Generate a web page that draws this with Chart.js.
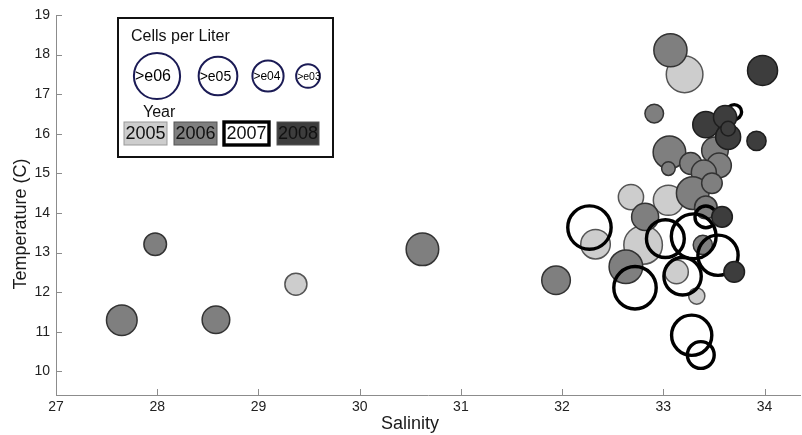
<!DOCTYPE html>
<html><head><meta charset="utf-8">
<script src="https://cdn.jsdelivr.net/npm/chart.js@4/dist/chart.umd.min.js"></script>
<style>html,body{margin:0;padding:0;background:#fff}</style>
</head><body>
<canvas id="c" width="802" height="435"></canvas>
<script>
// ---- data (salinity, temperature, log10 cells per liter) ----
const years = ['2005', '2006', '2007', '2008'];

const sal2005  = [29.37, 33.21, 32.68, 33.05, 32.33, 32.80, 33.13, 33.33];
const temp2005 = [12.20, 17.50, 14.40, 14.32, 13.21, 13.19, 12.51, 11.90];
const logc2005 = [2.64, 4.59, 3.07, 3.73, 3.65, 4.85, 2.85, 1.87];

const sal2006  = [27.65, 27.98, 28.58, 30.62, 31.94, 33.07, 32.91, 33.06, 33.05, 33.51, 33.55, 33.27, 33.40, 33.29, 33.48, 32.82, 32.63, 33.39, 33.42];
const temp2006 = [11.29, 13.21, 11.30, 13.08, 12.30, 18.11, 16.51, 15.53, 15.12, 15.58, 15.20, 15.25, 15.02, 14.50, 14.75, 13.90, 12.64, 13.19, 14.14];
const logc2006 = [3.79, 2.72, 3.39, 4.05, 3.52, 4.13, 2.19, 4.05, 1.52, 3.25, 2.99, 2.64, 3.04, 4.05, 2.45, 3.31, 4.19, 2.27, 2.72];

const sal2007  = [33.70, 32.27, 33.02, 33.30, 33.42, 33.54, 33.19, 32.72, 33.28, 33.37];
const temp2007 = [16.55, 13.63, 13.35, 13.41, 13.90, 12.93, 12.40, 12.11, 10.91, 10.41];
const logc2007 = [1.68, 5.49, 4.75, 5.68, 2.61, 5.07, 4.69, 5.36, 5.07, 3.28];

const sal2008  = [33.98, 33.42, 33.61, 33.64, 33.64, 33.92, 33.58, 33.70];
const temp2008 = [17.60, 16.23, 16.42, 15.92, 16.13, 15.82, 13.90, 12.51];
const logc2008 = [3.71, 3.20, 2.80, 3.04, 1.65, 2.27, 2.45, 2.45];

const xTicks = [27, 28, 29, 30, 31, 32, 33, 34];
const yTicks = [10, 11, 12, 13, 14, 15, 16, 17, 18, 19];
const legendCellLabels = ['>e06', '>e05', '>e04', '>e03'];
const legendCellLogs = [6, 5, 4, 3];

// ---- styling ----
const FONT = '"Liberation Sans", Arial, Helvetica, sans-serif';
const sizeOf = L => 3.75 * L + 1.1;
const styles = {
  '2005': {bg: '#cdcdcd', border: '#555555', bw: 1.5, order: 3},
  '2006': {bg: '#7f7f7f', border: '#333333', bw: 1.5, order: 2},
  '2007': {bg: 'rgba(0,0,0,0)', border: '#000000', bw: 3.4, order: 1},
  '2008': {bg: '#3d3d3d', border: '#1e1e1e', bw: 1.5, order: 0}
};
const seriesData = {
  '2005': [sal2005, temp2005, logc2005],
  '2006': [sal2006, temp2006, logc2006],
  '2007': [sal2007, temp2007, logc2007],
  '2008': [sal2008, temp2008, logc2008]
};
const datasets = years.map(y => {
  const [s, t, l] = seriesData[y];
  const st = styles[y];
  return {
    label: y,
    data: s.map((v, i) => ({x: v, y: t[i], r: sizeOf(l[i])})),
    backgroundColor: st.bg,
    borderColor: st.border,
    borderWidth: st.bw,
    hoverBorderWidth: st.bw,
    order: st.order,
    clip: false
  };
});

const decor = {
  id: 'decor',
  afterDraw(chart) {
    const ctx = chart.ctx;
    const xs = chart.scales.x, ys = chart.scales.y;
    const area = chart.chartArea;
    ctx.save();
    // inward tick marks
    ctx.strokeStyle = '#8c8c8c';
    ctx.lineWidth = 1;
    ctx.beginPath();
    xTicks.forEach(v => {
      const px = Math.round(xs.getPixelForValue(v)) + 0.5;
      ctx.moveTo(px, area.bottom); ctx.lineTo(px, area.bottom - 6);
    });
    yTicks.forEach(v => {
      const py = Math.round(ys.getPixelForValue(v)) + 0.5;
      ctx.moveTo(area.left, py); ctx.lineTo(area.left + 6, py);
    });
    ctx.stroke();

    // axis titles
    ctx.fillStyle = '#1a1a1a';
    ctx.font = '18px ' + FONT;
    ctx.textAlign = 'center';
    ctx.textBaseline = 'middle';
    ctx.fillText('Salinity', 410, 424);
    ctx.save();
    ctx.translate(21, 224);
    ctx.rotate(-Math.PI / 2);
    ctx.fillText('Temperature (C)', 0, 0);
    ctx.restore();

    // legend box
    ctx.lineWidth = 2;
    ctx.strokeStyle = '#111';
    ctx.strokeRect(118, 18, 215, 139);

    ctx.textAlign = 'left';
    ctx.textBaseline = 'alphabetic';
    ctx.fillStyle = '#111';
    ctx.font = '16px ' + FONT;
    ctx.fillText('Cells per Liter', 131, 41);

    const cx = [157, 218, 268, 308];
    const fs = [16, 14, 12, 10.5];
    legendCellLogs.forEach((L, i) => {
      const r = sizeOf(L) - 0.5;
      ctx.beginPath();
      ctx.arc(cx[i], 76, r, 0, Math.PI * 2);
      ctx.lineWidth = 2;
      ctx.strokeStyle = '#1b1b55';
      ctx.stroke();
      ctx.fillStyle = '#000';
      ctx.font = fs[i] + 'px ' + FONT;
      ctx.textBaseline = 'middle';
      ctx.fillText(legendCellLabels[i], cx[i] - r + 1, 77);
    });

    ctx.textBaseline = 'alphabetic';
    ctx.font = '16px ' + FONT;
    ctx.fillStyle = '#111';
    ctx.fillText('Year', 143, 117);

    const bx = [124, 174, 224, 277];
    const bw = [43, 43, 45, 42];
    years.forEach((y, i) => {
      const st = styles[y];
      ctx.fillStyle = y === '2007' ? '#fff' : st.bg;
      ctx.fillRect(bx[i], 122, bw[i], 23);
      ctx.lineWidth = y === '2007' ? 3.4 : 1;
      ctx.strokeStyle = y === '2007' ? '#000' : (y === '2005' ? '#999' : '#555');
      ctx.strokeRect(bx[i], 122, bw[i], 23);
      ctx.fillStyle = '#111';
      ctx.font = '18px ' + FONT;
      ctx.textAlign = 'center';
      ctx.textBaseline = 'middle';
      ctx.fillText(y, bx[i] + bw[i] / 2, 134);
      ctx.textAlign = 'left';
    });
    ctx.restore();
  }
};

const tickFont = {family: FONT, size: 14};
new Chart(document.getElementById('c'), {
  type: 'bubble',
  data: {datasets},
  options: {
    responsive: false,
    devicePixelRatio: 1,
    animation: false,
    events: [],
    layout: {autoPadding: false, padding: {top: 15, right: 2, left: 0, bottom: 0}},
    plugins: {legend: {display: false}, tooltip: {enabled: false}},
    scales: {
      x: {
        type: 'linear', min: 27, max: 34.35,
        afterBuildTicks: s => { s.ticks = xTicks.map(v => ({value: v})); },
        afterFit: s => { s.height = 40; s.paddingLeft = 0; s.paddingRight = 0; },
        grid: {display: false, drawTicks: false},
        border: {display: true, color: '#8c8c8c', width: 1},
        ticks: {font: tickFont, color: '#222', padding: 4, maxRotation: 0, autoSkip: false}
      },
      y: {
        type: 'linear', min: 9.4, max: 19,
        afterBuildTicks: s => { s.ticks = yTicks.map(v => ({value: v})); },
        afterFit: s => { s.width = 56; s.paddingTop = 0; s.paddingBottom = 0; },
        grid: {display: false, drawTicks: false},
        border: {display: true, color: '#8c8c8c', width: 1},
        ticks: {font: tickFont, color: '#222', padding: 6, autoSkip: false}
      }
    }
  },
  plugins: [decor]
});
</script>
</body></html>
